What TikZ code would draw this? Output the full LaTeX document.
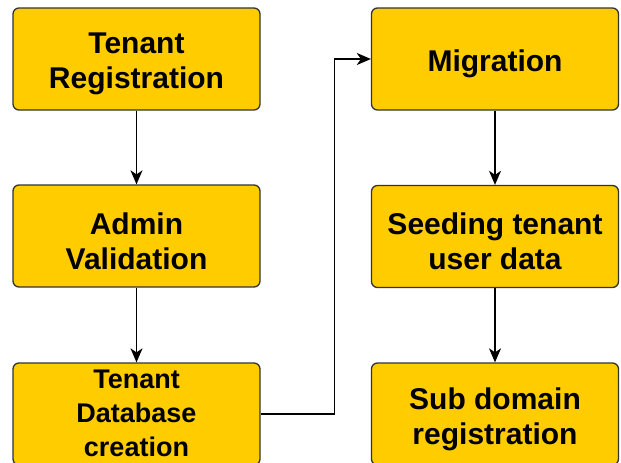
\documentclass[tikz,border=0pt]{standalone}
\usepackage{fontspec}
\setmainfont{Liberation Sans}
\usetikzlibrary{arrows.meta}

\definecolor{stepfill}{HTML}{FFCC00}
\definecolor{stepline}{HTML}{333333}

\tikzset{
  steptext/.style={align=center, inner sep=0pt, yshift=-5pt,
    font=\bfseries\fontsize{30}{35}\selectfont},
  stepshape/.style={draw=stepline, fill=stepfill, line width=1.3pt, rounded corners=6pt,
    minimum width=247pt, minimum height=102pt, inner sep=0pt},
  stepbox/.style={stepshape, label={[steptext]center:#1}},
  stepboxsmall/.style={stepshape,
    label={[steptext, yshift=6pt, font=\bfseries\fontsize{27}{34}\selectfont]center:#1}},
  flow/.style={line width=1.2pt, -{Stealth[length=14pt,width=12pt,inset=4pt]}}
}

\begin{document}
\begin{tikzpicture}[x=1pt,y=1pt]
\useasboundingbox (0,0) rectangle (621,-463);
% left column
\node[stepbox={Tenant\\Registration}] (reg) at (136.5,-59) {};
\node[stepbox={Admin\\Validation}] (admin) at (136.5,-236) {};
\node[stepboxsmall={Tenant\\Database\\creation}] (db) at (136.5,-414) {};
% right column
\node[stepbox={Migration}] (mig) at (495,-59) {};
\node[stepbox={Seeding tenant\\user data}] (seed) at (495,-236.5) {};
\node[stepbox={Sub domain\\registration}] (sub) at (495,-414) {};
% connectors
\draw[flow] (reg) -- (admin);
\draw[flow] (admin) -- (db);
\draw[flow] (db.east) -- ++(74,0) |- (mig.west);
\draw[flow] (mig) -- (seed);
\draw[flow] (seed) -- (sub);
\end{tikzpicture}
\end{document}
